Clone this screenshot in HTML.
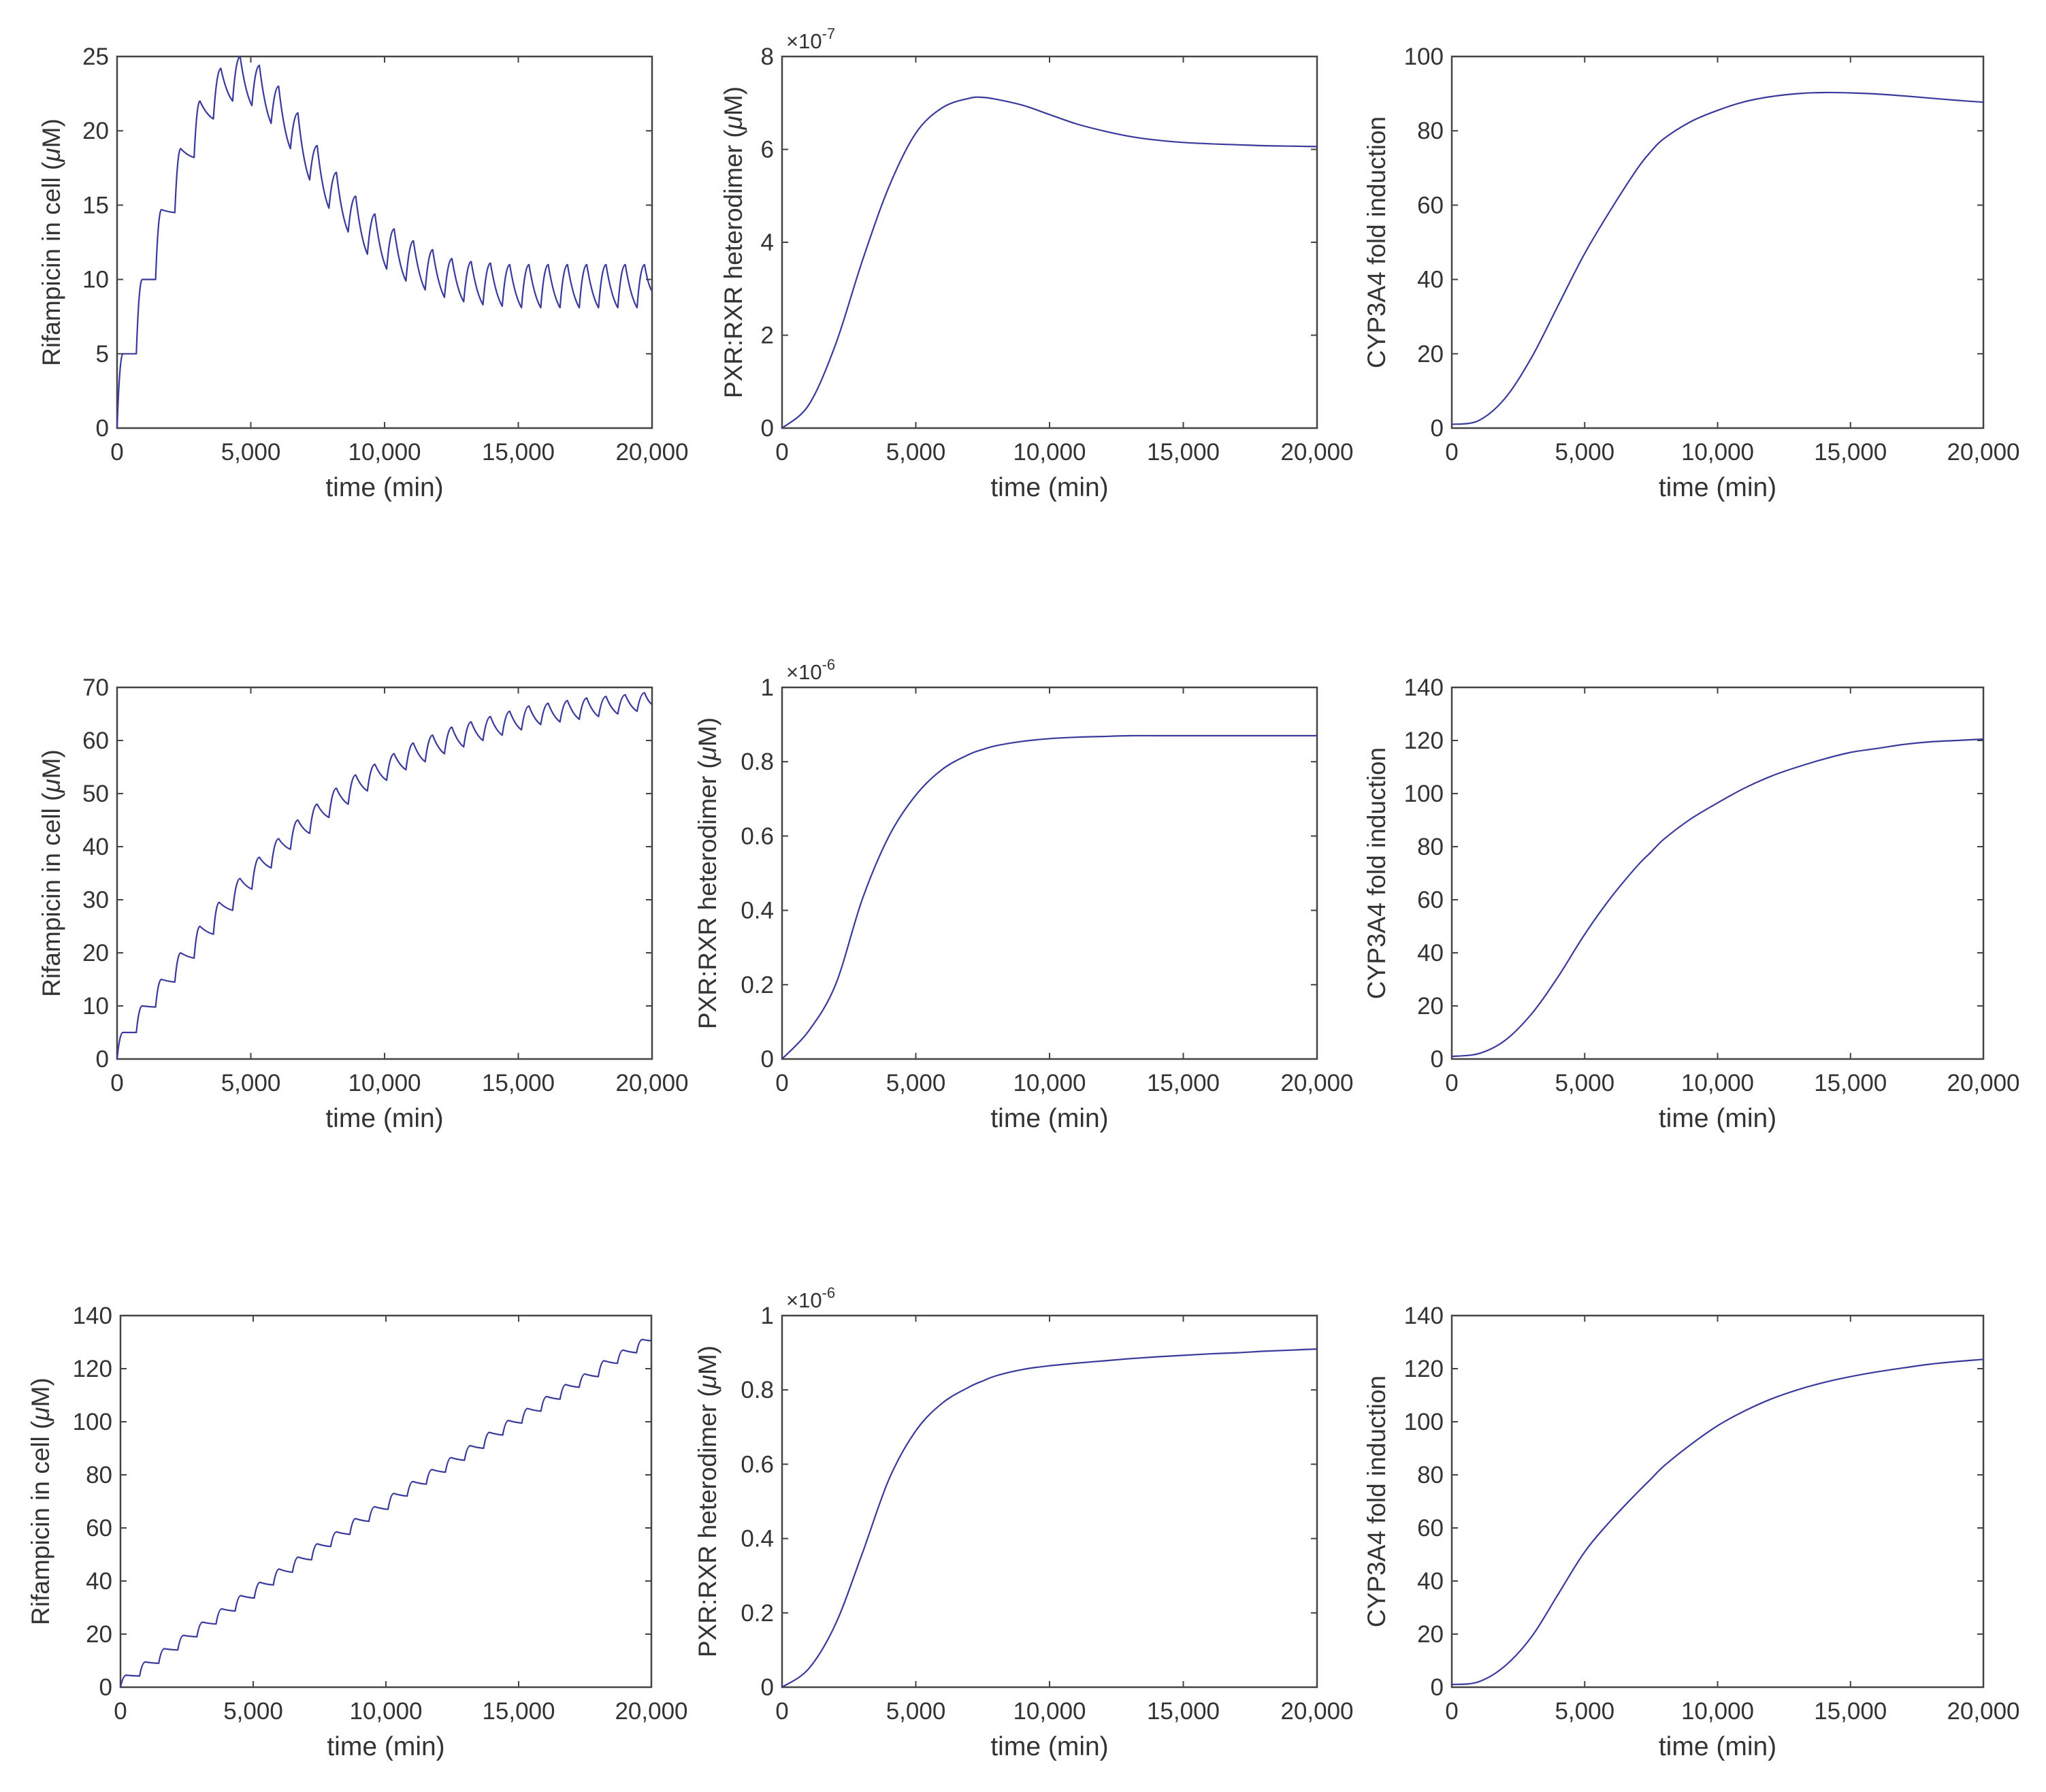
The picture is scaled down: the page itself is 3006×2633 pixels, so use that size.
<!DOCTYPE html>
<html><head><meta charset="utf-8"><title>Rifampicin / PXR:RXR / CYP3A4 simulations</title>
<style>
html,body{margin:0;padding:0;background:#fff;}
svg{display:block;font-family:"Liberation Sans",Arial,sans-serif;}
</style></head>
<body>
<svg id="fig" xmlns="http://www.w3.org/2000/svg" width="3006" height="2633" viewBox="0 0 3006 2633">
<rect x="0" y="0" width="3006" height="2633" fill="#fff"/>
</svg>
<script>
// ---- shared data ----
const doseTimes = [0,720,1440,2160,2880,3600,4320,5040,5760,6480,7200,7920,8640,9360,10080,10800,11520,12240,12960,13680,14400,15120,15840,16560,17280,18000,18720,19440];
const xTicks = [0,5000,10000,15000,20000];
const xTickLabels = ["0","5,000","10,000","15,000","20,000"];

// Row 1 rifampicin
const rif1Peaks   = [5,10,14.7,18.8,22,24.2,25,24.4,23,21.2,19,17.2,15.6,14.4,13.4,12.6,12,11.4,11.2,11.1,11,11,11,11,11,11,11,11];
const rif1Troughs = [0,5,10,14.5,18.2,20.8,22,21.7,20.5,18.8,16.7,14.8,13.2,11.7,10.7,9.9,9.3,8.8,8.5,8.3,8.2,8.1,8.1,8.1,8.1,8.1,8.1,8.1];
const rif1End = 9.2;
// Row 2 rifampicin
const rif2Peaks   = [5,10,15,20,25,29.5,34,38,41.5,45,48,51,53.5,55.5,57.5,59.5,61,62.5,63.5,64.5,65.5,66.5,67,67.5,68,68.3,68.6,69];
const rif2Troughs = [0,5,9.8,14.5,19,23.5,28,32,36,39.5,42.5,45.5,48,50.5,52.5,54.5,56,57.5,58.8,60,61,62,63,63.5,64,64.5,65,65.5];
const rif2End = 66.8;
// Row 3 rifampicin
const rif3Peaks   = [4.5,9.5,14.5,19.5,24.5,29.5,34.5,39.5,44.5,49,54,58.5,63.5,68,73,77.5,82,86.5,91,96,100.5,105,109.5,114,118,123,127,131];
const rif3Troughs = [0,4.2,9,14,19,23.8,28.7,33.6,38.5,43.3,48,53,57.6,62.5,67,72,76.5,81,85.5,90,95,99.5,104,108.5,113,117,122,126];
const rif3End = 130.5;

// smooth curves
const smoothTimes = [0,1000,2000,3000,4000,5000,6000,7000,7500,8000,9000,10000,11000,12000,13000,14000,15000,16000,17000,18000,19000,20000];
const pxr1Values = [0,0.5,1.8,3.6,5.2,6.35,6.9,7.1,7.12,7.08,6.95,6.75,6.55,6.4,6.28,6.2,6.15,6.12,6.1,6.08,6.07,6.06];
const pxr2Values = [0,0.076,0.2,0.43,0.6,0.71,0.78,0.82,0.833,0.843,0.855,0.862,0.866,0.868,0.87,0.87,0.87,0.87,0.87,0.87,0.87,0.87];
const pxr3Values = [0,0.05,0.17,0.36,0.56,0.69,0.765,0.808,0.824,0.838,0.855,0.865,0.872,0.878,0.884,0.889,0.893,0.897,0.9,0.904,0.907,0.91];
const cyp1Values = [1,2,8,19,33,47,59,70,74.5,78,82.5,85.5,87.8,89.2,90,90.3,90.2,89.9,89.4,88.8,88.2,87.7];
const cyp2Values = [1,2,7,17,31,47,61,73,78,83,90.5,96.5,102,106.5,110,113,115.5,117,118.5,119.5,120,120.5];
const cyp3Values = [1,2,8,19,35,51,63,73.5,78.5,83.5,91.5,98.5,104,108.5,112,114.8,117,118.8,120.3,121.7,122.7,123.5];

const yTicks1 = [0,5,10,15,20,25];
const yTicks2 = [0,2,4,6,8];
const yTicks3 = [0,20,40,60,80,100];
const yTicks4 = [0,10,20,30,40,50,60,70];
const yTicks5 = [0,0.2,0.4,0.6,0.8,1];
const yTicks6 = [0,20,40,60,80,100,120,140];
const yTickLabels5 = ["0","0.2","0.4","0.6","0.8","1"];

const NS = "http://www.w3.org/2000/svg";
const svg = document.getElementById('fig');
function mk(tag, attrs, parent){
  const e = document.createElementNS(NS, tag);
  for (const k in attrs) e.setAttribute(k, attrs[k]);
  (parent||svg).appendChild(e);
  return e;
}

const AX = "#444", TXT = "#333", LINE = "#3a3a9c";

function panel(cfg){
  const g = mk('g', {});
  
  
  const L = cfg.left, T = cfg.top, W = cfg.w, H = cfg.h;
  const ymax = cfg.yTicks[cfg.yTicks.length-1];
  const xs = t => L + t/20000*W;
  const ys = v => T + H - v/ymax*H;
  const fr = mk('rect', {x:L, y:T, width:W, height:H, fill:'none', stroke:AX, 'stroke-width':2.5}, g);
  
  
  xTicks.forEach((t,i)=>{
    const x = xs(t);
    mk('line',{x1:x,y1:T+H,x2:x,y2:T+H-9,stroke:AX,'stroke-width':2},g);
    mk('line',{x1:x,y1:T,x2:x,y2:T+9,stroke:AX,'stroke-width':2},g);
    const tx = mk('text',{x:x,y:T+H+47,'font-size':35,'text-anchor':'middle',fill:TXT},g);
    
    
    tx.textContent = xTickLabels[i];
  });
  cfg.yTicks.forEach((v,i)=>{
    const y = ys(v);
    mk('line',{x1:L,y1:y,x2:L+9,y2:y,stroke:AX,'stroke-width':2},g);
    mk('line',{x1:L+W,y1:y,x2:L+W-9,y2:y,stroke:AX,'stroke-width':2},g);
    const ty = mk('text',{x:L-12,y:y+12,'font-size':35,'text-anchor':'end',fill:TXT},g);
    
    
    ty.textContent = cfg.yLabels ? cfg.yLabels[i] : String(v);
  });
  const xt = mk('text',{x:L+W/2,y:T+H+100,'font-size':39,'text-anchor':'middle',fill:TXT},g);
  
  
  xt.textContent = 'time (min)';
  const yx = cfg.ytx, yy = T+H/2;
  const yt = mk('text',{x:yx,y:yy,'font-size':37,'text-anchor':'middle',fill:TXT,transform:`rotate(-90 ${yx} ${yy})`},g);
  
  
  if (cfg.mu){
    yt.appendChild(document.createTextNode(cfg.ytitle+' ('));
    const s = mk('tspan',{'font-style':'italic'},yt); s.textContent='\u03bc';
    yt.appendChild(document.createTextNode('M)'));
  } else yt.textContent = cfg.ytitle;
  if (cfg.exp){
    const ex = mk('text',{x:L+6,y:T-12,'font-size':31,fill:TXT},g);
    
    
    ex.appendChild(document.createTextNode('\u00d710'));
    const sp = mk('tspan',{'font-size':22,dy:-14},ex); sp.textContent = cfg.exp;
  }
  let d = '';
  if (cfg.peaks){
    for (let i=0;i<doseTimes.length;i++){
      const t0 = doseTimes[i];
      const t1 = i+1<doseTimes.length ? doseTimes[i+1] : 20000;
      const vTr = cfg.troughs[i], vPk = cfg.peaks[i];
      const vNext = i+1<doseTimes.length ? cfg.troughs[i+1] : cfg.end;
      const drop = vPk - vNext;
      const rise = drop > 1.5 ? 280 : 220;
      if (i===0) d += `M${xs(t0).toFixed(1)},${ys(vTr).toFixed(1)}`;
      else d += `L${xs(t0).toFixed(1)},${ys(vTr).toFixed(1)}`;
      d += `Q${xs(t0+rise*0.45).toFixed(1)},${ys(vPk).toFixed(1)} ${xs(t0+rise).toFixed(1)},${ys(vPk).toFixed(1)}`;
      const tc = t0+rise+(t1-t0-rise)*0.45;
      const vc = vNext + (vPk-vNext)*0.25;
      d += `Q${xs(tc).toFixed(1)},${ys(vc).toFixed(1)} ${xs(t1).toFixed(1)},${ys(vNext).toFixed(1)}`;
    }
  } else {
    const p = smoothTimes.map((t,i)=>[xs(t), ys(cfg.values[i])]);
    d = `M${p[0][0].toFixed(1)},${p[0][1].toFixed(1)}`;
    for (let i=0;i<p.length-1;i++){
      const p0 = p[Math.max(0,i-1)], p1=p[i], p2=p[i+1], p3=p[Math.min(p.length-1,i+2)];
      const c1 = [p1[0]+(p2[0]-p0[0])/6, p1[1]+(p2[1]-p0[1])/6];
      const c2 = [p2[0]-(p3[0]-p1[0])/6, p2[1]-(p3[1]-p1[1])/6];
      d += `C${c1[0].toFixed(1)},${c1[1].toFixed(1)} ${c2[0].toFixed(1)},${c2[1].toFixed(1)} ${p2[0].toFixed(1)},${p2[1].toFixed(1)}`;
    }
  }
  const path = mk('path',{d:d,fill:'none',stroke:LINE,'stroke-width':2.2,'stroke-linejoin':'round'},g);
  
  
}

const colL = [172,1149,2133], colW = [786,786,781];
const rowT = [83,1010,1933], H = 546;

panel({name:'rifampicin-plot-row1',left:colL[0],top:rowT[0],w:colW[0],h:H,yTicks:yTicks1,ytitle:'Rifampicin in cell',mu:true,ytx:88,peaks:rif1Peaks,troughs:rif1Troughs,end:rif1End});
panel({name:'pxr-plot-row1',left:colL[1],top:rowT[0],w:colW[1],h:H,yTicks:yTicks2,ytitle:'PXR:RXR heterodimer',mu:true,ytx:1090,exp:'-7',values:pxr1Values});
panel({name:'cyp3a4-plot-row1',left:colL[2],top:rowT[0],w:colW[2],h:H,yTicks:yTicks3,ytitle:'CYP3A4 fold induction',ytx:2035,values:cyp1Values});

panel({name:'rifampicin-plot-row2',left:colL[0],top:rowT[1],w:colW[0],h:H,yTicks:yTicks4,ytitle:'Rifampicin in cell',mu:true,ytx:88,peaks:rif2Peaks,troughs:rif2Troughs,end:rif2End});
panel({name:'pxr-plot-row2',left:colL[1],top:rowT[1],w:colW[1],h:H,yTicks:yTicks5,yLabels:yTickLabels5,ytitle:'PXR:RXR heterodimer',mu:true,ytx:1052,exp:'-6',values:pxr2Values});
panel({name:'cyp3a4-plot-row2',left:colL[2],top:rowT[1],w:colW[2],h:H,yTicks:yTicks6,ytitle:'CYP3A4 fold induction',ytx:2035,values:cyp2Values});

panel({name:'rifampicin-plot-row3',left:177,top:rowT[2],w:780,h:H,yTicks:yTicks6,ytitle:'Rifampicin in cell',mu:true,ytx:72,peaks:rif3Peaks,troughs:rif3Troughs,end:rif3End});
panel({name:'pxr-plot-row3',left:colL[1],top:rowT[2],w:colW[1],h:H,yTicks:yTicks5,yLabels:yTickLabels5,ytitle:'PXR:RXR heterodimer',mu:true,ytx:1052,exp:'-6',values:pxr3Values});
panel({name:'cyp3a4-plot-row3',left:colL[2],top:rowT[2],w:colW[2],h:H,yTicks:yTicks6,ytitle:'CYP3A4 fold induction',ytx:2035,values:cyp3Values});
</script>
</body></html>
